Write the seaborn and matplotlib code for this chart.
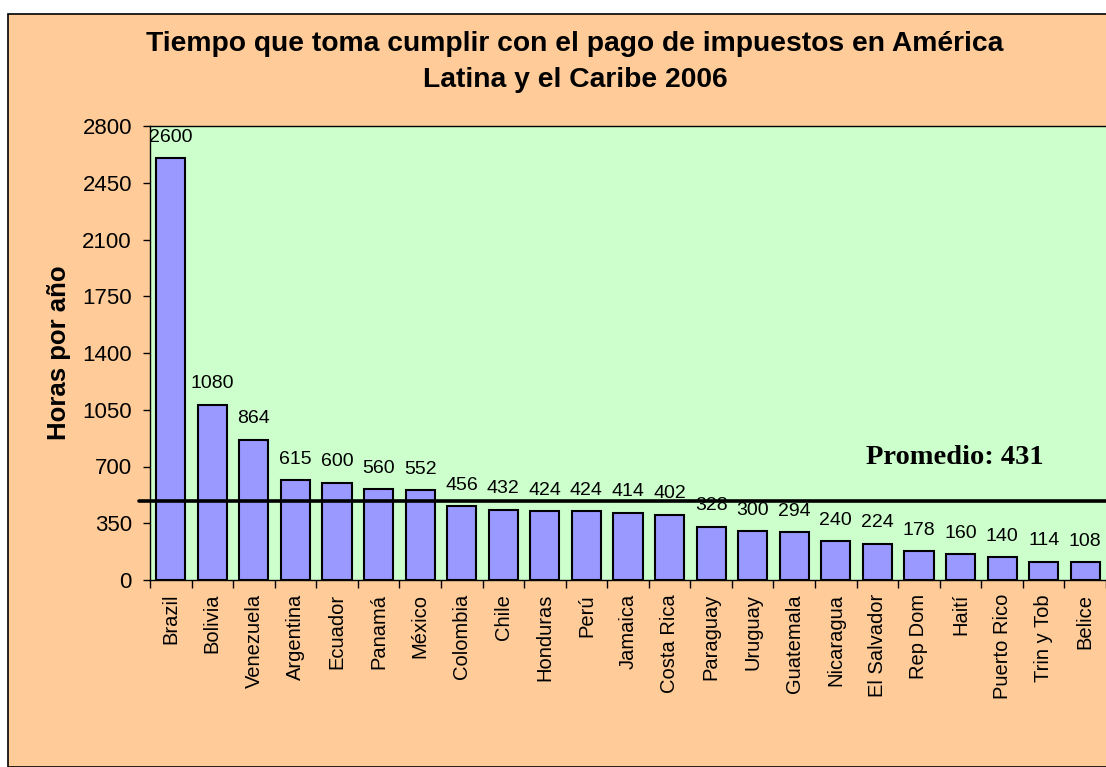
import numpy as np
import pandas as pd
import matplotlib
matplotlib.use("Agg")
import matplotlib.pyplot as plt
import seaborn as sns
from matplotlib.patches import Rectangle

# data
paises = ["Brazil", "Bolivia", "Venezuela", "Argentina", "Ecuador", "Panamá",
          "México", "Colombia", "Chile", "Honduras", "Perú", "Jamaica",
          "Costa Rica", "Paraguay", "Uruguay", "Guatemala", "Nicaragua",
          "El Salvador", "Rep Dom", "Haití", "Puerto Rico", "Trin y Tob",
          "Belice"]
horas = [2600, 1080, 864, 615, 600, 560, 552, 456, 432, 424, 424, 414, 402,
         328, 300, 294, 240, 224, 178, 160, 140, 114, 108]
linea_promedio = 490
texto_promedio = "Promedio: 431"
y_ticks = [0, 350, 700, 1050, 1400, 1750, 2100, 2450, 2800]

df = pd.DataFrame({"pais": paises, "horas": horas})

sns.set_style("ticks")
plt.rcParams["font.family"] = ["Liberation Sans", "DejaVu Sans"]
plt.rcParams["text.color"] = "black"
plt.rcParams["axes.labelcolor"] = "black"
plt.rcParams["xtick.color"] = "black"
plt.rcParams["ytick.color"] = "black"

fig = plt.figure(figsize=(11.06, 7.67), dpi=100, facecolor="white")
W, H = 1106, 767

# orange chart area with black frame
fondo = Rectangle((8 / W, 0), 1.2, 1 - 14 / H, transform=fig.transFigure,
                  facecolor="#FFCC99", edgecolor="black", lw=1.2, zorder=-5)
fig.add_artist(fondo)

ax = fig.add_axes([150 / W, 1 - 580 / H, (1106 - 150) / W, (580 - 126) / H])
ax.set_facecolor("#CCFFCC")

sns.barplot(data=df, x="pais", y="horas", ax=ax, color="#9999FF",
            saturation=1, width=0.7, edgecolor="black", linewidth=1.5,
            zorder=2)

for i, v in enumerate(horas):
    ax.annotate(str(v), (i, v), xytext=(0, 9), textcoords="offset points",
                ha="center", va="bottom", fontsize=14, annotation_clip=False,
                zorder=3)

ax.axhline(linea_promedio, xmin=-0.012, xmax=1, color="black", lw=2.6,
           clip_on=False, zorder=4)
ax.text(0.842, 0.27, texto_promedio, transform=ax.transAxes,
        family=["Liberation Serif", "DejaVu Serif"], fontweight="bold",
        fontsize=20.5, ha="center", va="center")

ax.set_xlim(-0.5, len(paises) - 0.5)
ax.set_ylim(0, 2800)
ax.set_yticks(y_ticks)
ax.tick_params(axis="y", labelsize=16, length=5, width=1, pad=8)
ax.set_xticks(range(len(paises)))
ax.set_xticklabels(paises, rotation=90, fontsize=14.5)
ax.tick_params(axis="x", which="major", length=0, pad=10)
ax.set_xticks(np.arange(-0.5, len(paises)), minor=True)
ax.tick_params(axis="x", which="minor", length=6, width=1)

ax.set_xlabel("")
ax.set_ylabel("Horas por año", fontsize=18.5, fontweight="bold", labelpad=8)
for s in ["left", "top", "bottom"]:
    ax.spines[s].set_color("black")
    ax.spines[s].set_linewidth(1)
ax.spines["right"].set_visible(False)

fig.text(575 / W, 1 - 62 / H,
         "Tiempo que toma cumplir con el pago de impuestos en América\nLatina y el Caribe 2006",
         ha="center", va="center", fontsize=20.3, fontweight="bold",
         linespacing=1.47)

fig.savefig("out.png", dpi=100, facecolor=fig.get_facecolor())
